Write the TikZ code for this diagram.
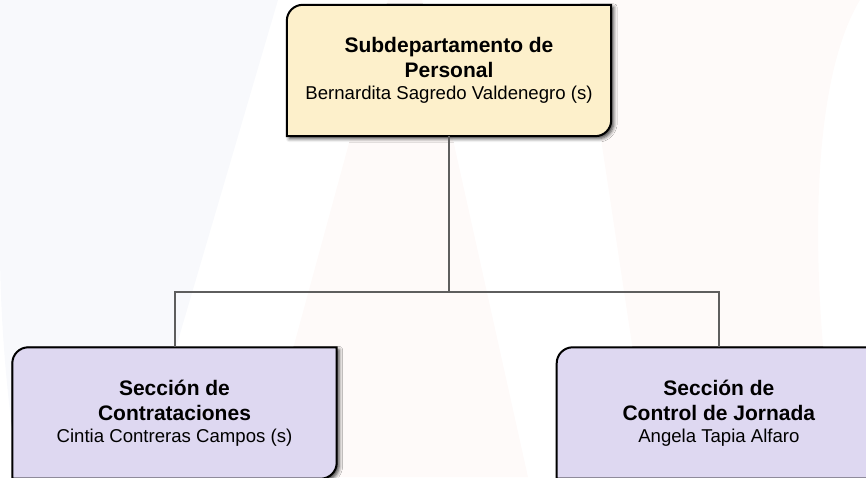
\documentclass[tikz,border=0pt]{standalone}
\usepackage{fontspec}
\setmainfont{Liberation Sans}
\usetikzlibrary{positioning,backgrounds,shadows.blur}

\definecolor{jefefill}{HTML}{FDF0CB}
\definecolor{seccfill}{HTML}{DED8F1}
\definecolor{linkgray}{HTML}{5E5E5E}
\definecolor{marcaazul}{HTML}{F8F9FC}
\definecolor{marcarosa}{HTML}{FEFAF9}

\tikzset{
  unidad/.style={minimum width=324pt, minimum height=131pt, inner sep=0pt,
    align=center, font=\fontsize{21}{25}\selectfont},
  marco/.style={draw=black, line width=2pt,
    blur shadow={shadow xshift=2.5pt, shadow yshift=-2.5pt,
      shadow blur radius=3.5pt, shadow opacity=75}},
  enlace/.style={draw=linkgray, line width=2pt},
}

% nombre del jefe bajo el titulo
\newcommand{\nombre}[1]{\\[-3.4pt]{\fontsize{18.6}{21.6}\selectfont #1}}
% marco con dos esquinas redondeadas
\newcommand{\marcounidad}[2]{%
  \path[marco, fill=#2] (#1.south west) -- ([yshift=-16pt]#1.north west)
    arc[start angle=180, end angle=90, radius=16pt] -- (#1.north east)
    -- ([yshift=16pt]#1.south east)
    arc[start angle=0, end angle=-90, radius=16pt] -- cycle;}

\begin{document}
\begin{tikzpicture}[x=1pt, y=1pt]
  \useasboundingbox (0,0) rectangle (866,477);

  \node[unidad] (jefe) at (449,406.5)
    {\textbf{Subdepartamento de}\\\textbf{Personal}\nombre{Bernardita Sagredo Valdenegro (s)}};
  \node[unidad] (contrat) at (174.5,64)
    {\textbf{Sección de}\\\textbf{Contrataciones}\nombre{Cintia Contreras Campos (s)}};
  \node[unidad, right=220pt of contrat] (jornada)
    {\textbf{Sección de}\\\textbf{Control de Jornada}\nombre{Angela Tapia Alfaro}};

  \draw[enlace] (jefe.south) -- ++(0,-156) coordinate (rama);
  \draw[enlace] (rama) -| (contrat.north);
  \draw[enlace] (rama) -| (jornada.north);

  \begin{scope}[on background layer]
    \clip (0,0) rectangle (866,477);
    % marca de agua
    \fill[marcaazul] (0,477) -- (278,477) -- (138,0) -- (20,0)
      .. controls (5,77) and (0,177) .. (0,227) -- cycle;
    \fill[marcarosa] (388,477) -- (422,477) -- (528,0) -- (258,0) -- cycle;
    \fill[marcarosa] (580,477) -- (860,477) .. controls (800,377) and (815,137) .. (840,0)
      -- (652,0) -- cycle;
    \marcounidad{jefe}{jefefill}
    \marcounidad{contrat}{seccfill}
    \marcounidad{jornada}{seccfill}
  \end{scope}
\end{tikzpicture}
\end{document}
